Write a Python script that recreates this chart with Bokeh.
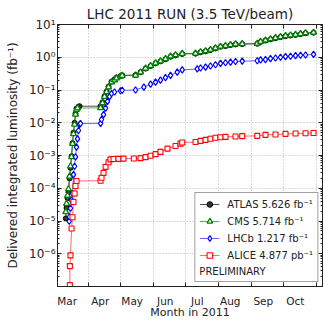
from bokeh.plotting import figure
from bokeh.models import (FixedTicker, LinearAxis, LogAxis, Legend, LegendItem, Range1d)
from bokeh.embed import file_html
from bokeh.resources import INLINE

FONT = "DejaVu Sans"
TXT = "#222222"

# x values: days since 1 March 2011
month_names = ["Mar", "Apr", "May", "Jun", "Jul", "Aug", "Sep", "Oct"]
month_label_days = [11, 42, 72, 103, 133, 164, 195, 225]
month_start_days = [0, 31, 61, 92, 122, 153, 184, 214, 245]

decades = [1e-7, 1e-6, 1e-5, 1e-4, 1e-3, 1e-2, 1e-1, 1e0, 1e1]
decade_labels = ["", "10\u207b\u2076", "10\u207b\u2075", "10\u207b\u2074", "10\u207b\u00b3",
                 "10\u207b\u00b2", "10\u207b\u00b9", "10\u2070", "10\u00b9"]
minor_y = [k * d for d in decades[:-1] for k in range(2, 10)]

atlas_day = [9.7, 10.4, 11.3, 12.2, 13.2, 14.1, 15.1, 16.0, 16.9, 17.9, 18.8, 19.7, 21.6, 22.6,
             42.3, 44.1, 46.0, 47.9, 49.8, 52.6, 55.4, 57.3, 61.0, 62.6, 75.1, 79.8, 84.5,
             89.2, 93.9, 98.5, 103.2, 107.9, 112.6, 118.9, 131.4, 136.1, 140.8, 145.4,
             150.1, 154.8, 159.5, 164.2, 168.9, 175.2, 189.3, 192.4, 197.0, 201.7, 206.4,
             211.1, 215.8, 220.5, 225.2, 229.9, 234.6, 242.1]
atlas_lumi = [1.2e-5, 2.5e-5, 5.0e-5, 7.6e-5, 2.0e-4, 4.2e-4, 9.5e-4, 2.4e-3, 5.0e-3, 1.0e-2,
              1.9e-2, 2.7e-2, 3.1e-2, 3.2e-2, 3.2e-2, 4.2e-2, 6.5e-2, 9.0e-2, 0.127, 0.18,
              0.21, 0.24, 0.265, 0.28, 0.285, 0.35, 0.45, 0.54, 0.65, 0.75, 0.87, 1.04, 1.14,
              1.26, 1.29, 1.42, 1.52, 1.66, 1.86, 2.09, 2.19, 2.35, 2.46, 2.52, 2.58, 2.94,
              3.23, 3.53, 3.82, 4.12, 4.41, 4.60, 4.80, 5.09, 5.39, 5.626]

cms_day = [9.7, 10.4, 11.3, 12.2, 13.2, 14.1, 15.1, 16.0, 16.9, 17.9, 18.8, 19.7, 20.7,
           42.3, 44.1, 46.0, 47.9, 49.8, 52.6, 55.4, 57.3, 61.0, 62.6, 75.1, 79.8, 84.5,
           89.2, 93.9, 98.5, 103.2, 107.9, 112.6, 118.9, 131.4, 136.1, 140.8, 145.4,
           150.1, 154.8, 159.5, 164.2, 168.9, 175.2, 189.3, 192.4, 197.0, 201.7, 206.4,
           211.1, 215.8, 220.5, 225.2, 229.9, 234.6, 242.1]
cms_lumi = [1.9e-5, 3.4e-5, 6.0e-5, 9.5e-5, 2.3e-4, 4.7e-4, 9.1e-4, 2.3e-3, 4.6e-3, 8.9e-3,
            1.8e-2, 2.5e-2, 2.8e-2, 2.85e-2, 4.0e-2, 6.3e-2, 8.7e-2, 0.123, 0.174, 0.20,
            0.23, 0.26, 0.275, 0.28, 0.35, 0.46, 0.55, 0.66, 0.76, 0.89, 1.07, 1.17, 1.29,
            1.32, 1.45, 1.55, 1.70, 1.90, 2.14, 2.24, 2.40, 2.51, 2.57, 2.63, 3.0, 3.3, 3.6,
            3.9, 4.2, 4.5, 4.7, 4.9, 5.2, 5.5, 5.714]

lhcb_day = [12.9, 13.2, 14.1, 15.1, 16.0, 16.9, 17.9, 18.8, 19.7, 20.7, 21.6, 22.6, 23.5,
            42.3, 43.2, 45.1, 47.0, 48.8, 50.7, 52.6, 55.4, 61.0, 62.6, 75.1, 82.9, 89.2,
            93.9, 98.5, 103.2, 107.9, 114.2, 118.9, 133.0, 136.1, 140.8, 145.4, 150.1,
            154.8, 159.5, 164.2, 168.9, 175.2, 189.3, 192.4, 197.0, 201.7, 206.4, 211.1,
            215.8, 220.5, 225.2, 229.9, 234.6, 242.1]
lhcb_lumi = [9.8e-6, 1.35e-5, 2.45e-5, 4.3e-5, 6.9e-5, 2.6e-4, 4.7e-4, 9.1e-4, 1.8e-3, 3.2e-3,
             5.8e-3, 8.9e-3, 9.5e-3, 9.6e-3, 1.26e-2, 1.78e-2, 2.8e-2, 4.5e-2, 6.3e-2, 7.8e-2,
             8.7e-2, 9.5e-2, 9.8e-2, 0.100, 0.123, 0.151, 0.174, 0.20, 0.24, 0.28, 0.35, 0.41,
             0.44, 0.47, 0.50, 0.54, 0.59, 0.65, 0.68, 0.71, 0.74, 0.76, 0.78, 0.83, 0.85,
             0.91, 0.95, 1.00, 1.05, 1.07, 1.12, 1.15, 1.17, 1.217]

alice_day = [13.5, 13.5, 14.1, 15.1, 16.0, 16.9, 17.9, 18.8, 19.7, 42.3, 43.2, 45.1, 47.0,
             49.8, 51.6, 54.5, 59.1, 63.8, 73.5, 79.8, 84.5, 89.2, 93.9, 98.5, 105.1, 112.6,
             117.3, 118.9, 131.4, 136.1, 140.8, 145.4, 150.1, 154.8, 159.5, 168.9, 175.2,
             189.3, 197.0, 206.4, 215.8, 225.2, 234.6, 242.1]
alice_lumi = [1.1e-7, 4.2e-7, 8.9e-7, 5.9e-6, 1.3e-5, 3.8e-5, 6.9e-5, 1.17e-4, 1.66e-4, 1.7e-4,
              2.1e-4, 2.95e-4, 4.5e-4, 6.2e-4, 7.6e-4, 7.8e-4, 7.9e-4, 8.0e-4, 8.1e-4, 8.3e-4,
              8.9e-4, 9.8e-4, 1.1e-3, 1.29e-3, 1.62e-3, 1.95e-3, 2.3e-3, 2.5e-3, 2.57e-3,
              2.8e-3, 3.0e-3, 3.24e-3, 3.47e-3, 3.6e-3, 3.7e-3, 3.8e-3, 3.9e-3, 3.98e-3,
              4.27e-3, 4.37e-3, 4.57e-3, 4.68e-3, 4.8e-3, 4.877e-3]

labels = ["ATLAS 5.626 fb\u207b\u00b9", "CMS 5.714 fb\u207b\u00b9",
          "LHCb 1.217 fb\u207b\u00b9", "ALICE 4.877 pb\u207b\u00b9"]
legend_note = "PRELIMINARY"

p = figure(width=323, height=321, x_range=Range1d(1.9, 250.5), y_range=Range1d(1e-7, 10),
           y_axis_type="log", output_backend="svg", toolbar_location=None,
           min_border_left=57, min_border_right=1, min_border_bottom=28, min_border_top=24,
           title="LHC 2011 RUN (3.5 TeV/beam)")
p.title.align = "center"
p.title.text_font = FONT
p.title.text_font_size = "13.5px"
p.title.text_font_style = "normal"
p.title.text_color = TXT
p.title.standoff = 6
p.outline_line_color = TXT
p.background_fill_color = "white"

xt = FixedTicker(ticks=month_label_days, minor_ticks=month_start_days)
yt = FixedTicker(ticks=decades, minor_ticks=minor_y)

xa = p.xaxis[0]
xa.ticker = xt
xa.major_label_overrides = {d: m for d, m in zip(month_label_days, month_names)}
xa.major_tick_in = 0
xa.major_tick_out = 0
xa.minor_tick_in = 4
xa.minor_tick_out = 0
xa.major_label_standoff = 8
xa.axis_label = "Month in 2011"
xa.axis_label_standoff = -4
xa.axis_label_text_font = FONT
xa.axis_label_text_font_size = "11px"
xa.axis_label_text_font_style = "normal"
xa.axis_label_text_color = TXT
xa.major_label_text_font = FONT
xa.major_label_text_font_size = "10.5px"
xa.major_label_text_color = TXT

ya = p.yaxis[0]
ya.ticker = yt
ya.major_label_overrides = {d: s for d, s in zip(decades, decade_labels)}
ya.major_tick_in = 4
ya.major_tick_out = 0
ya.minor_tick_in = 2
ya.minor_tick_out = 0
ya.major_label_standoff = 2
ya.axis_label = "Delivered integrated luminosity (fb\u207b\u00b9)"
ya.axis_label_standoff = 6
ya.axis_label_text_font = FONT
ya.axis_label_text_font_size = "12px"
ya.axis_label_text_font_style = "normal"
ya.axis_label_text_color = TXT
ya.major_label_text_font = FONT
ya.major_label_text_font_size = "12px"
ya.major_label_text_color = TXT

for ax in (xa, ya):
    ax.axis_line_color = TXT
    ax.major_tick_line_color = TXT
    ax.minor_tick_line_color = TXT

top = LinearAxis(ticker=xt, major_label_overrides={d: "" for d in month_label_days},
                 major_label_text_font_size="0px", major_label_standoff=0,
                 major_tick_in=0, major_tick_out=0, minor_tick_in=4, minor_tick_out=0,
                 axis_line_color=TXT, minor_tick_line_color=TXT)
p.add_layout(top, "above")
right = LogAxis(ticker=yt, major_label_overrides={d: "" for d in decades},
                major_label_text_font_size="0px", major_label_standoff=0,
                major_tick_in=4, major_tick_out=0, minor_tick_in=2, minor_tick_out=0,
                axis_line_color=TXT, major_tick_line_color=TXT, minor_tick_line_color=TXT)
p.add_layout(right, "right")

p.xgrid.ticker = xt
p.xgrid.grid_line_color = None
p.xgrid.minor_grid_line_color = "#b5b5b5"
p.xgrid.minor_grid_line_dash = "1 2"
p.ygrid.ticker = yt
p.ygrid.grid_line_color = "#b5b5b5"
p.ygrid.grid_line_dash = "1 2"
p.ygrid.minor_grid_line_color = None

a_l = p.line(atlas_day, atlas_lumi, line_color="black", line_width=1, line_alpha=0.7)
a_s = p.scatter(atlas_day, atlas_lumi, marker="circle", size=5, line_color="black",
                fill_color="#333333", line_width=1)
c_l = p.line(cms_day, cms_lumi, line_color="#008000", line_width=1, line_alpha=0.65)
c_s = p.scatter(cms_day, cms_lumi, marker="triangle", size=6, line_color="#008000",
                fill_color="white", line_width=1.3)
l_l = p.line(lhcb_day, lhcb_lumi, line_color="#0000ff", line_width=1, line_alpha=0.6)
l_s = p.scatter(lhcb_day, lhcb_lumi, marker="diamond", size=6.5, line_color="#0000ff",
                fill_color="white", line_width=1.2)
r_l = p.line(alice_day, alice_lumi, line_color="#ff0000", line_width=1, line_alpha=0.6)
r_s = p.scatter(alice_day, alice_lumi, marker="square", size=5, line_color="#ff0000",
                fill_color="white", line_width=1.1)

legend = Legend(items=[
    LegendItem(label=labels[0], renderers=[a_l, a_s]),
    LegendItem(label=labels[1], renderers=[c_l, c_s]),
    LegendItem(label=labels[2], renderers=[l_l, l_s]),
    LegendItem(label=labels[3], renderers=[r_l, r_s]),
], location="bottom_right")
legend.title = legend_note
legend.title_location = "below"
legend.title_standoff = 4
legend.title_text_font = FONT
legend.title_text_font_size = "10px"
legend.title_text_font_style = "normal"
legend.title_text_color = TXT
legend.label_text_font = FONT
legend.label_text_font_size = "10px"
legend.label_text_color = TXT
legend.glyph_width = 20
legend.glyph_height = 14
legend.label_height = 14
legend.label_standoff = 8
legend.spacing = 3
legend.padding = 4
legend.margin = 4
legend.border_line_color = "#444444"
legend.border_line_width = 1
legend.background_fill_alpha = 1
p.add_layout(legend)

open("out.html", "w").write(file_html(p, INLINE))
